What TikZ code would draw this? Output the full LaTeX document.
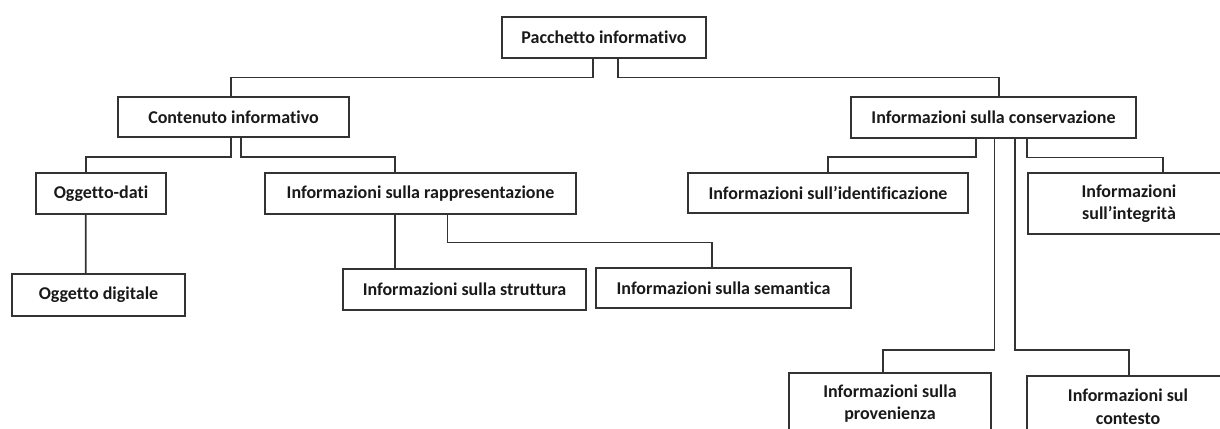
\documentclass[tikz,border=0pt]{standalone}
\usepackage{fontspec}
\setmainfont{Carlito}[Ligatures={TeX,NoCommon}]
\usepackage{tikz}
\usetikzlibrary{positioning,calc}
\newlength{\pxu}
\setlength{\pxu}{0.025cm}

\begin{document}
\begin{tikzpicture}[x=\pxu,y=-\pxu,font=\fontsize{12.8}{16}\selectfont\bfseries,
  every node/.style={align=center},
  infobox/.style={draw=black!80,line width=1.2pt,inner sep=0pt,text=black!90},
  link/.style={draw=black!80,line width=1.2pt}]
  \useasboundingbox (0,0) rectangle (1220,428);
  \clip (0,0) rectangle (1220,428);
  % boxes
  \node[infobox,minimum width=204\pxu,minimum height=41\pxu] (pac) at (604,37.5) {Pacchetto informativo};
  \node[infobox,minimum width=231\pxu,minimum height=40\pxu] (cont) at (233.5,117) {Contenuto informativo};
  \node[infobox,minimum width=285\pxu,minimum height=41\pxu] (cons) at (993.5,117.5) {Informazioni sulla conservazione};
  \node[infobox,minimum width=130\pxu,minimum height=41\pxu] (ogd) at (101,193.5) {Oggetto-dati};
  \node[infobox,minimum width=311\pxu,minimum height=41\pxu] (rapp) at (420.5,193.5) {Informazioni sulla rappresentazione};
  \node[infobox,minimum width=280\pxu,minimum height=40\pxu] (ident) at (828,193) {Informazioni sull’identificazione};
  \node[infobox,minimum width=202\pxu,minimum height=61\pxu] (integ) at (1129,203.5) {Informazioni\\ sull’integrità};
  \node[infobox,minimum width=173\pxu,minimum height=42\pxu] (ogdig) at (98.5,295) {Oggetto digitale};
  \node[infobox,minimum width=243\pxu,minimum height=41\pxu] (strutt) at (464.5,289.5) {Informazioni sulla struttura};
  \node[infobox,minimum width=255\pxu,minimum height=40\pxu] (sem) at (723.5,288) {Informazioni sulla semantica};
  \node[infobox,minimum width=202\pxu,minimum height=61\pxu] (prov) at (890,403.5) {Informazioni sulla\\ provenienza};
  \node[infobox,minimum width=202\pxu,minimum height=61\pxu] (ctx) at (1128,406.5) {Informazioni sul\\ contesto};
  % links
  \draw[link] ([xshift=-11.3\pxu]pac.south) -- ++(0,18.7) -| ([xshift=-2.8\pxu]cont.north);
  \draw[link] ([xshift=14.3\pxu]pac.south) -- ++(0,18.7) -| ([xshift=5.8\pxu]cons.north);
  \draw[link] ([xshift=-2.8\pxu]cont.south) -- ++(0,19) -| ([xshift=-15.3\pxu]ogd.north);
  \draw[link] ([xshift=7.2\pxu]cont.south) -- ++(0,19) -| ([xshift=-25.5\pxu]rapp.north);
  \draw[link] ([xshift=-15.3\pxu]ogd.south) -- ([xshift=-12.8\pxu]ogdig.north);
  \draw[link] ([xshift=-25.5\pxu]rapp.south) -- ([xshift=-69.5\pxu]strutt.north);
  \draw[link] ([xshift=27\pxu]rapp.south) -- ++(0,27.7) -| ([xshift=-11.2\pxu]sem.north);
  \draw[link] ([xshift=-17.8\pxu]cons.south) -- ++(0,18) -| (ident.north);
  \draw[link] ([xshift=33.2\pxu]cons.south) -- ++(0,18.7) -| ([xshift=34.3\pxu]integ.north);
  \draw[link] ([xshift=1\pxu]cons.south) -- ++(0,211) -| ([xshift=-6.7\pxu]prov.north);
  \draw[link] ([xshift=21.2\pxu]cons.south) -- ++(0,211) -| ([xshift=1\pxu]ctx.north);
\end{tikzpicture}
\end{document}
